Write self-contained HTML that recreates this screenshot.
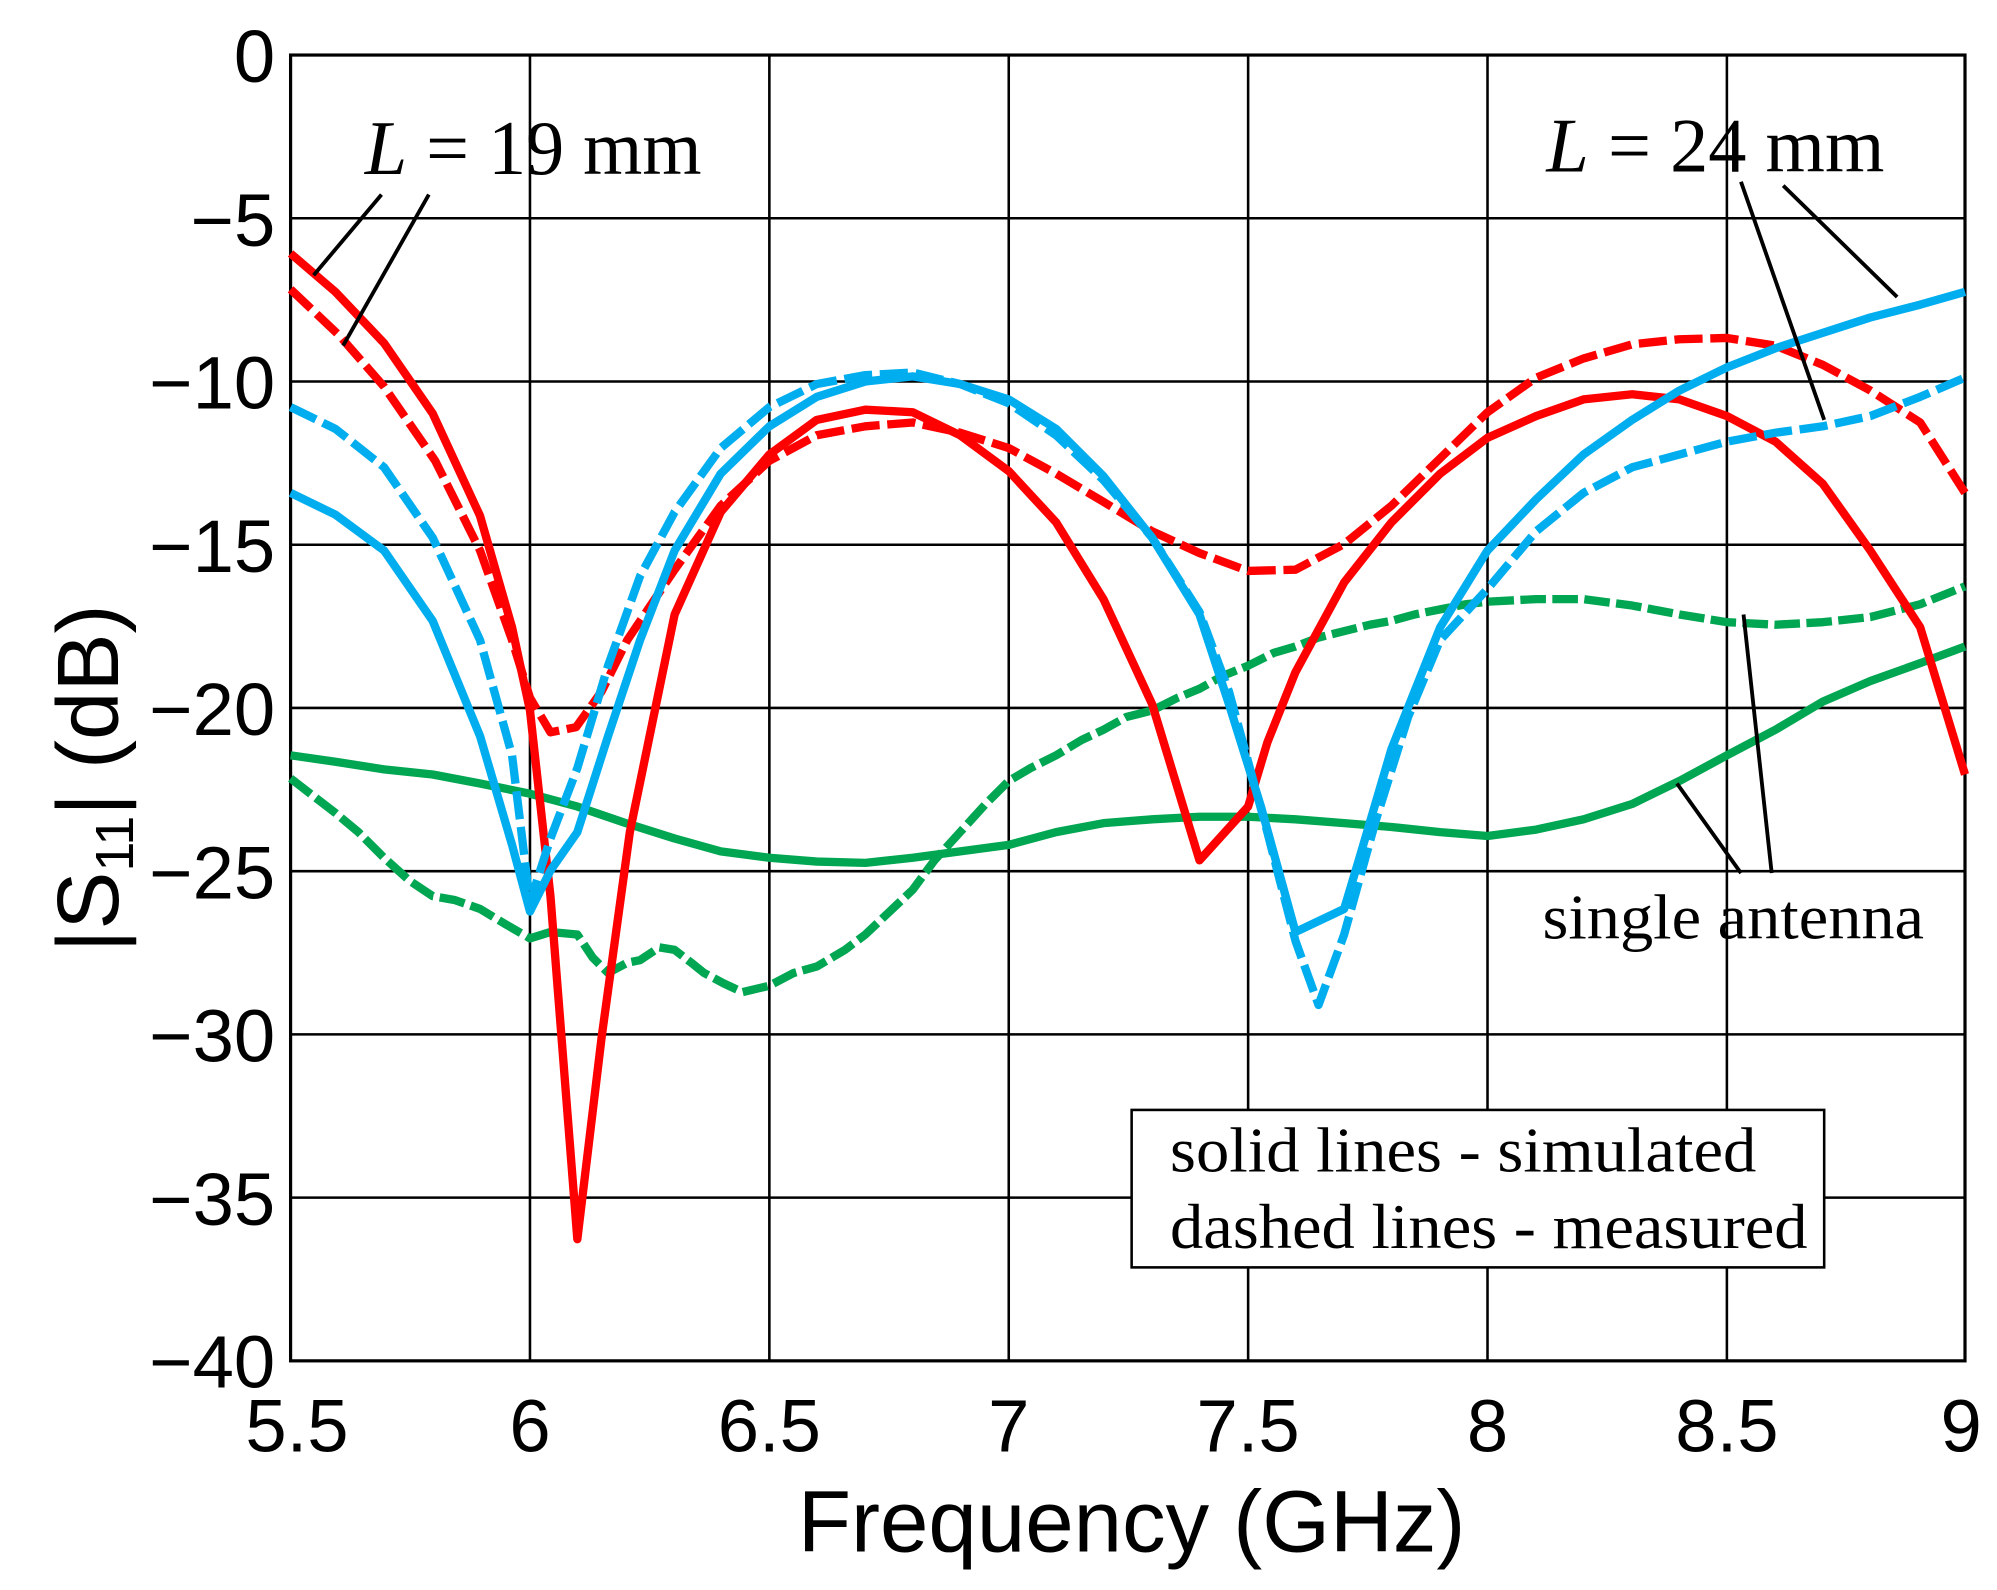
<!DOCTYPE html>
<html><head><meta charset="utf-8"><style>html,body{margin:0;padding:0;background:#fff}svg{display:block}</style></head><body>
<svg width="1997" height="1590" viewBox="0 0 1560 1242" preserveAspectRatio="none" xmlns="http://www.w3.org/2000/svg">
<rect width="1560" height="1242" fill="#fff"/>
<g stroke="#000" stroke-width="2" fill="none">
<path d="M227 170.5H1535M227 298H1535M227 425.5H1535M227 553H1535M227 680.5H1535M227 808H1535M227 935.5H1535"/>
<path d="M414 43V1063M601 43V1063M788 43V1063M975 43V1063M1162 43V1063M1349 43V1063"/>
<rect x="227" y="43" width="1308" height="1020" stroke-width="2.5"/>
</g>
<g font-family="Liberation Sans, sans-serif" font-size="58" text-anchor="end" fill="#000">
<text x="215" y="64">0</text><text x="215" y="192">−5</text><text x="215" y="319">−10</text><text x="215" y="447">−15</text><text x="215" y="574">−20</text><text x="215" y="702">−25</text><text x="215" y="829">−30</text><text x="215" y="957">−35</text><text x="215" y="1084">−40</text>
</g>
<g font-family="Liberation Sans, sans-serif" font-size="58" text-anchor="middle" fill="#000">
<text x="232" y="1134">5.5</text><text x="414" y="1134">6</text><text x="601" y="1134">6.5</text><text x="788" y="1134">7</text><text x="975" y="1134">7.5</text><text x="1162" y="1134">8</text><text x="1349" y="1134">8.5</text><text x="1532" y="1134">9</text>
<text x="884" y="1212" font-size="68">Frequency (GHz)</text>
<text transform="translate(92,608) rotate(-90)" font-size="68" text-anchor="middle">|S<tspan font-size="42" dy="12">11</tspan><tspan dy="-12">| (dB)</tspan></text>
</g>
<g fill="none" stroke-width="6.5" stroke-linejoin="round">
<polyline stroke="#00a651" points="227,590 262,595 300,601 338,605 375,612 414,620 451,630 489,643 527,655 563,665 601,670 638,673 676,674 713,670 750,665 788,660 825,650 862,643 900,640 937,638 975,638 1012,640 1050,643 1087,646 1125,650 1162,653 1200,648 1237,640 1275,628 1312,610 1349,590 1387,570 1424,548 1461,532 1500,518 1535,505"/>
<polyline stroke="#00a651" stroke-dasharray="20,5" points="227,608 245,622 262,635 280,650 300,670 320,688 338,700 355,703 375,710 395,722 414,733 430,728 451,730 463,748 475,760 490,752 500,750 515,740 527,742 540,752 550,760 565,768 580,775 601,770 620,760 638,755 660,742 676,730 695,712 713,695 730,672 750,650 770,628 788,610 805,600 825,590 845,578 862,570 880,560 900,555 920,545 937,538 955,528 975,520 995,510 1012,505 1030,498 1050,493 1070,488 1087,485 1105,480 1125,476 1145,472 1162,470 1200,468 1237,468 1275,473 1312,480 1349,486 1387,488 1424,486 1461,482 1500,472 1535,458"/>
<polyline stroke="#ff0000" stroke-dasharray="22,6" points="227,226 265,262 300,302 340,360 375,430 400,500 414,545 430,572 450,568 470,540 490,500 527,445 563,395 601,360 638,340 676,333 713,330 750,338 788,350 825,370 862,392 900,415 937,432 975,446 1012,445 1050,425 1087,395 1125,358 1162,322 1200,295 1237,280 1275,269 1312,265 1349,264 1387,270 1424,285 1461,305 1500,330 1535,385"/>
<polyline stroke="#ff0000" points="227,198 262,228 300,268 338,323 375,403 400,490 414,555 430,700 451,968 470,810 492,650 527,480 563,400 601,355 638,328 676,320 713,322 750,340 788,368 825,408 862,468 900,550 937,672 975,630 990,580 1012,525 1050,455 1087,408 1125,370 1162,342 1200,325 1237,312 1275,308 1312,312 1349,325 1387,345 1424,378 1461,430 1500,490 1535,605"/>
<polyline stroke="#00aeef" stroke-dasharray="22,6" points="227,318 262,335 300,365 338,420 375,500 400,590 414,705 430,655 451,600 475,520 500,450 527,400 563,350 601,318 638,300 676,293 713,291 750,300 788,315 825,340 862,375 900,420 937,478 960,540 990,650 1012,735 1030,785 1050,730 1075,640 1100,560 1125,500 1162,460 1200,415 1237,385 1275,365 1312,355 1349,345 1387,338 1424,333 1461,325 1500,310 1535,295"/>
<polyline stroke="#00aeef" points="227,385 262,402 300,430 338,485 375,575 400,660 414,712 430,680 451,650 475,575 500,500 527,430 563,370 601,333 638,310 676,298 713,294 750,300 788,312 825,335 862,372 900,420 937,480 960,550 985,630 1012,728 1050,710 1062,670 1087,585 1125,490 1162,430 1200,390 1237,355 1275,328 1312,305 1349,287 1387,272 1424,260 1461,248 1500,238 1535,228"/>
</g>
<g stroke="#000" stroke-width="3">
<line x1="298" y1="152" x2="245" y2="215"/><line x1="335" y1="152" x2="268" y2="270"/>
<line x1="1360" y1="142" x2="1425" y2="328"/><line x1="1393" y1="145" x2="1482" y2="232"/>
<line x1="1362" y1="480" x2="1384" y2="682"/><line x1="1310" y1="612" x2="1360" y2="682"/>
</g>
<g font-family="Liberation Serif, serif" font-size="60" fill="#000">
<text x="285" y="136" textLength="263" lengthAdjust="spacingAndGlyphs"><tspan font-style="italic">L</tspan> = 19 mm</text>
<text x="1208" y="134" textLength="264" lengthAdjust="spacingAndGlyphs"><tspan font-style="italic">L</tspan> = 24 mm</text>
<text x="1205" y="733" font-size="50" textLength="298" lengthAdjust="spacingAndGlyphs">single antenna</text>
</g>
<rect x="884" y="867" width="541" height="123" fill="#fff" stroke="#000" stroke-width="2"/>
<g font-family="Liberation Serif, serif" font-size="50" fill="#000">
<text x="914" y="915" textLength="458" lengthAdjust="spacingAndGlyphs">solid lines - simulated</text>
<text x="914" y="975" textLength="498" lengthAdjust="spacingAndGlyphs">dashed lines - measured</text>
</g>
</svg>
</body></html>
